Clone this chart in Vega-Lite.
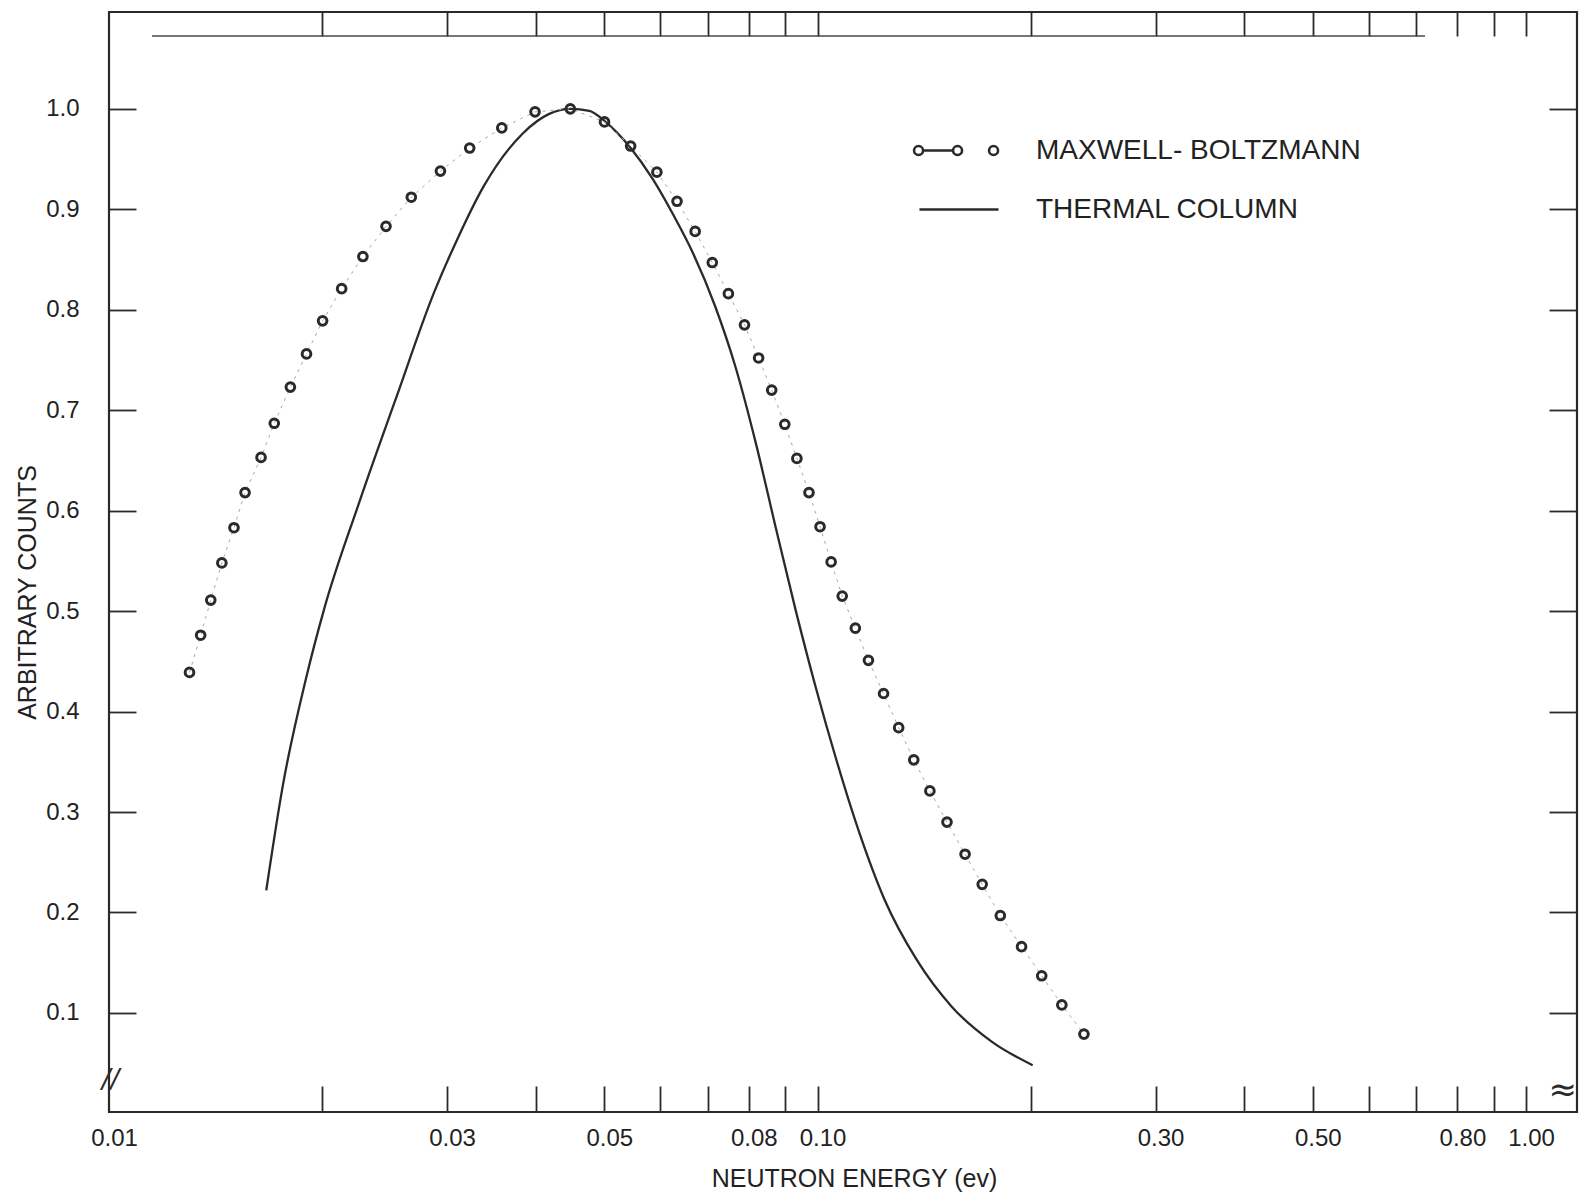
{
  "$schema": "https://vega.github.io/schema/vega-lite/v6.json",
  "width": 1468,
  "height": 1100,
  "autosize": {"type": "none"},
  "padding": {"left": 109, "top": 12, "right": 2, "bottom": 83},
  "background": "white",
  "config": {
    "view": {"stroke": "#2a2a2a", "strokeWidth": 2.2},
    "font": "Liberation Sans",
    "axis": {
      "labelFont": "Liberation Sans",
      "titleFont": "Liberation Sans",
      "labelColor": "#222222",
      "titleColor": "#222222",
      "tickColor": "#2a2a2a",
      "tickWidth": 1.8,
      "grid": false,
      "labelFontSize": 24,
      "titleFontSize": 25,
      "titleFontWeight": "normal"
    }
  },
  "datasets": {
    "maxwell": [
      {"energy": 0.01299, "counts": 0.439},
      {"energy": 0.01347, "counts": 0.476},
      {"energy": 0.01392, "counts": 0.511},
      {"energy": 0.01443, "counts": 0.548},
      {"energy": 0.01501, "counts": 0.583},
      {"energy": 0.01556, "counts": 0.618},
      {"energy": 0.01639, "counts": 0.653},
      {"energy": 0.01711, "counts": 0.687},
      {"energy": 0.01803, "counts": 0.723},
      {"energy": 0.01900, "counts": 0.756},
      {"energy": 0.02002, "counts": 0.789},
      {"energy": 0.02130, "counts": 0.821},
      {"energy": 0.02282, "counts": 0.853},
      {"energy": 0.02460, "counts": 0.883},
      {"energy": 0.02671, "counts": 0.912},
      {"energy": 0.02936, "counts": 0.938},
      {"energy": 0.03229, "counts": 0.961},
      {"energy": 0.03584, "counts": 0.981},
      {"energy": 0.03993, "counts": 0.997},
      {"energy": 0.04478, "counts": 1.000},
      {"energy": 0.05004, "counts": 0.987},
      {"energy": 0.05448, "counts": 0.963},
      {"energy": 0.05933, "counts": 0.937},
      {"energy": 0.06334, "counts": 0.908},
      {"energy": 0.06719, "counts": 0.878},
      {"energy": 0.07103, "counts": 0.847},
      {"energy": 0.07485, "counts": 0.816},
      {"energy": 0.07887, "counts": 0.785},
      {"energy": 0.08257, "counts": 0.752},
      {"energy": 0.08616, "counts": 0.720},
      {"energy": 0.08991, "counts": 0.686},
      {"energy": 0.09351, "counts": 0.652},
      {"energy": 0.09726, "counts": 0.618},
      {"energy": 0.10082, "counts": 0.584},
      {"energy": 0.10452, "counts": 0.549},
      {"energy": 0.10835, "counts": 0.515},
      {"energy": 0.11307, "counts": 0.483},
      {"energy": 0.11799, "counts": 0.451},
      {"energy": 0.12393, "counts": 0.418},
      {"energy": 0.13017, "counts": 0.384},
      {"energy": 0.13671, "counts": 0.352},
      {"energy": 0.14406, "counts": 0.321},
      {"energy": 0.15230, "counts": 0.290},
      {"energy": 0.16152, "counts": 0.258},
      {"energy": 0.17077, "counts": 0.228},
      {"energy": 0.18113, "counts": 0.197},
      {"energy": 0.19406, "counts": 0.166},
      {"energy": 0.20721, "counts": 0.137},
      {"energy": 0.22121, "counts": 0.108},
      {"energy": 0.23768, "counts": 0.079}
    ],
    "thermal": [
      {"energy": 0.01667, "counts": 0.222},
      {"energy": 0.01761, "counts": 0.328},
      {"energy": 0.01897, "counts": 0.433},
      {"energy": 0.02012, "counts": 0.502},
      {"energy": 0.02252, "counts": 0.607},
      {"energy": 0.02543, "counts": 0.7125},
      {"energy": 0.02879, "counts": 0.818},
      {"energy": 0.03103, "counts": 0.8705},
      {"energy": 0.03380, "counts": 0.923},
      {"energy": 0.03843, "counts": 0.976},
      {"energy": 0.04181, "counts": 0.995},
      {"energy": 0.04478, "counts": 1.0},
      {"energy": 0.04764, "counts": 0.998},
      {"energy": 0.05021, "counts": 0.987},
      {"energy": 0.05448, "counts": 0.961},
      {"energy": 0.05855, "counts": 0.930},
      {"energy": 0.06252, "counts": 0.895},
      {"energy": 0.06675, "counts": 0.856},
      {"energy": 0.07174, "counts": 0.803},
      {"energy": 0.07660, "counts": 0.743},
      {"energy": 0.08178, "counts": 0.668},
      {"energy": 0.08731, "counts": 0.583},
      {"energy": 0.09321, "counts": 0.500},
      {"energy": 0.09952, "counts": 0.423},
      {"energy": 0.1062, "counts": 0.353},
      {"energy": 0.1141, "counts": 0.283},
      {"energy": 0.1243, "counts": 0.213},
      {"energy": 0.1380, "counts": 0.153},
      {"energy": 0.1548, "counts": 0.106},
      {"energy": 0.1765, "counts": 0.071},
      {"energy": 0.2012, "counts": 0.048}
    ]
  },
  "resolve": {"axis": {"x": "independent", "y": "independent"}},
  "layer": [
    {
      "data": {"name": "thermal"},
      "mark": {"type": "line", "strokeWidth": 2.3, "interpolate": "monotone"},
      "encoding": {
        "x": {
          "field": "energy", "type": "quantitative",
          "scale": {"type": "log", "domain": [0.01, 1.18]},
          "axis": {
            "orient": "top", "title": null, "labels": false, "domain": false,
            "ticks": true, "tickSize": -24,
            "values": [0.02, 0.03, 0.04, 0.05, 0.06, 0.07, 0.08, 0.09, 0.1, 0.2, 0.3, 0.4, 0.5, 0.6, 0.7, 0.8, 0.9, 1.0]
          }
        },
        "y": {
          "field": "counts", "type": "quantitative",
          "scale": {"domain": [0.0014, 1.0964], "nice": false, "zero": false},
          "axis": {
            "orient": "right", "title": null, "labels": false, "domain": false,
            "ticks": true, "tickSize": -28,
            "values": [0.1, 0.2, 0.3, 0.4, 0.5, 0.6, 0.7, 0.8, 0.9, 1.0]
          }
        },
        "stroke": {
          "datum": "THERMAL COLUMN", "type": "nominal",
          "scale": {"domain": ["MAXWELL- BOLTZMANN", "THERMAL COLUMN"], "range": ["#2a2a2a", "#2a2a2a"]},
          "legend": {
            "title": null, "orient": "none", "legendX": 831, "legendY": 122,
            "padding": 0, "offset": 0,
            "symbolSize": 900, "symbolStrokeWidth": 2.6,
            "labelFont": "Liberation Sans", "labelFontSize": 28, "labelColor": "#222222",
            "labelOffset": 63, "labelLimit": 600, "rowPadding": 28,
            "encode": {
              "symbols": {
                "update": {
                  "shape": {"signal": "datum.value === 'THERMAL COLUMN' ? 'M-2.47,0H2.8' : 'M-2.83,0A0.3,0.3 0 1,0 -2.23,0A0.3,0.3 0 1,0 -2.83,0ZM-2.23,0L-0.23,0M-0.23,0A0.3,0.3 0 1,0 0.37,0A0.3,0.3 0 1,0 -0.23,0ZM2.17,0A0.3,0.3 0 1,0 2.77,0A0.3,0.3 0 1,0 2.17,0Z'"},
                  "fill": {"value": "transparent"},
                  "stroke": {"value": "#2a2a2a"},
                  "strokeWidth": {"value": 2.6},
                  "size": {"value": 900},
                  "opacity": {"value": 1}
                }
              }
            }
          }
        }
      }
    },
    {
      "data": {"name": "maxwell"},
      "mark": {"type": "line", "color": "#a8a8a8", "strokeWidth": 1, "strokeDash": [3, 5]},
      "encoding": {
        "x": {
          "field": "energy", "type": "quantitative",
          "scale": {"type": "log", "domain": [0.01, 1.18]},
          "axis": {
            "orient": "bottom", "title": null, "labels": false, "domain": false,
            "ticks": true, "tickSize": -26,
            "values": [0.02, 0.03, 0.04, 0.05, 0.06, 0.07, 0.08, 0.09, 0.1, 0.2, 0.3, 0.4, 0.5, 0.6, 0.7, 0.8, 0.9, 1.0]
          }
        },
        "y": {
          "field": "counts", "type": "quantitative",
          "scale": {"domain": [0.0014, 1.0964], "nice": false, "zero": false},
          "axis": {
            "orient": "left", "title": null, "labels": false, "domain": false,
            "ticks": true, "tickSize": -27,
            "values": [0.1, 0.2, 0.3, 0.4, 0.5, 0.6, 0.7, 0.8, 0.9, 1.0]
          }
        }
      }
    },
    {
      "data": {"name": "maxwell"},
      "mark": {"type": "point", "shape": "circle", "filled": false, "size": 75, "strokeWidth": 3, "opacity": 1},
      "encoding": {
        "x": {
          "field": "energy", "type": "quantitative",
          "scale": {"type": "log", "domain": [0.01, 1.18]},
          "axis": {
            "orient": "bottom", "title": "NEUTRON ENERGY (ev)", "labels": true, "domain": false,
            "ticks": false, "tickSize": 0, "labelPadding": 14, "titlePadding": 16,
            "labelOffset": 5, "titleX": 745,
            "format": ".2f", "labelFlush": false, "labelOverlap": false, "labelBound": false,
            "values": [0.01, 0.03, 0.05, 0.08, 0.1, 0.3, 0.5, 0.8, 1.0]
          }
        },
        "y": {
          "field": "counts", "type": "quantitative",
          "scale": {"domain": [0.0014, 1.0964], "nice": false, "zero": false},
          "axis": {
            "orient": "left", "title": "ARBITRARY COUNTS", "labels": true, "domain": false,
            "ticks": false, "tickSize": 0, "labelPadding": 30, "titlePadding": 5,
            "titleY": 580,
            "format": ".1f", "labelFlush": false, "labelOverlap": false,
            "values": [0.1, 0.2, 0.3, 0.4, 0.5, 0.6, 0.7, 0.8, 0.9, 1.0]
          }
        },
        "stroke": {
          "datum": "MAXWELL- BOLTZMANN", "type": "nominal",
          "scale": {"domain": ["MAXWELL- BOLTZMANN", "THERMAL COLUMN"], "range": ["#2a2a2a", "#2a2a2a"]}
        }
      }
    },
    {
      "data": {"values": [{}]},
      "mark": {"type": "rule", "color": "#4a4a4a", "strokeWidth": 1.5},
      "encoding": {
        "x": {"datum": 0.0115, "type": "quantitative", "scale": {"type": "log", "domain": [0.01, 1.18]}, "axis": null},
        "x2": {"datum": 0.72},
        "y": {"datum": 1.0725, "type": "quantitative", "scale": {"domain": [0.0014, 1.0964], "nice": false, "zero": false}, "axis": null}
      }
    },
    {
      "data": {"values": [{}]},
      "mark": {"type": "text", "text": "//", "font": "DejaVu Sans", "fontSize": 26, "fontStyle": "italic", "color": "#2a2a2a", "align": "center", "baseline": "middle"},
      "encoding": {
        "x": {"datum": 0.01005, "type": "quantitative", "scale": {"type": "log", "domain": [0.01, 1.18]}, "axis": null},
        "y": {"datum": 0.033, "type": "quantitative", "scale": {"domain": [0.0014, 1.0964], "nice": false, "zero": false}, "axis": null}
      }
    },
    {
      "data": {"values": [{}]},
      "mark": {"type": "text", "text": "≈", "font": "DejaVu Sans", "fontSize": 34, "color": "#2a2a2a", "align": "right", "baseline": "middle"},
      "encoding": {
        "x": {"datum": 1.18, "type": "quantitative", "scale": {"type": "log", "domain": [0.01, 1.18]}, "axis": null},
        "y": {"datum": 0.022, "type": "quantitative", "scale": {"domain": [0.0014, 1.0964], "nice": false, "zero": false}, "axis": null}
      }
    }
  ]
}
